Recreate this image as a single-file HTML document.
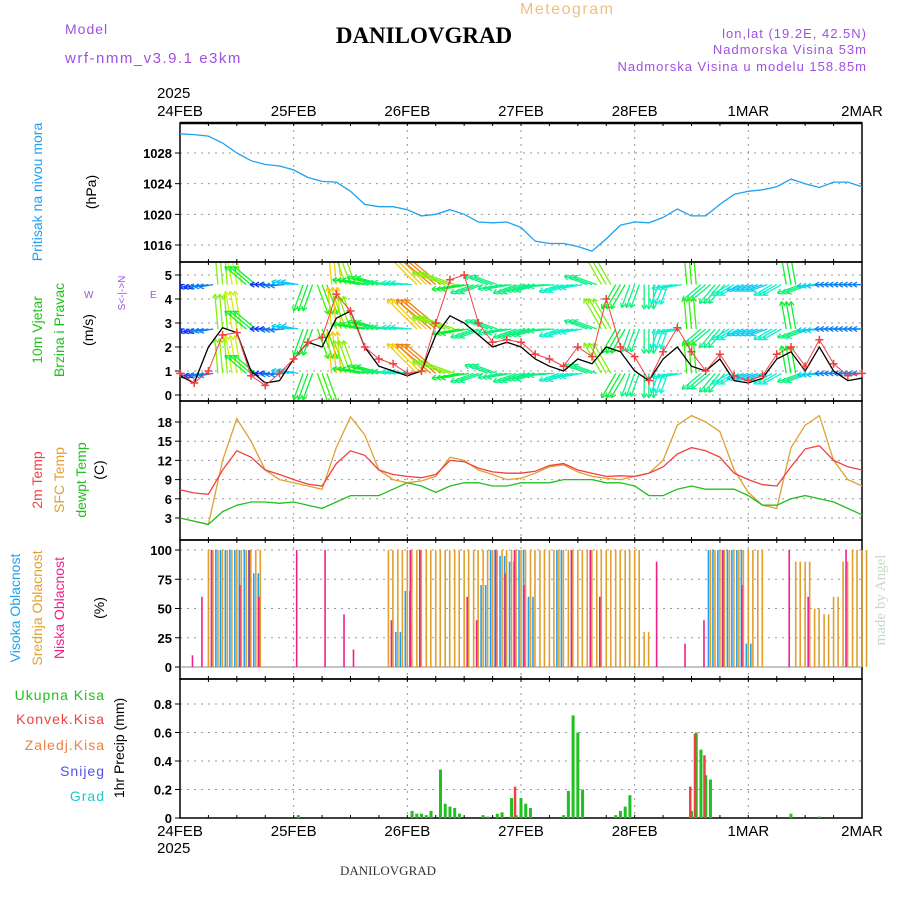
<!DOCTYPE html>
<html><head><meta charset="utf-8"><style>
body{margin:0;background:#fff}
svg{display:block;font-family:"Liberation Sans",sans-serif}
.tk{font-size:13px;font-weight:bold;text-anchor:end}
.dt{font-size:15px}
</style></head><body>
<svg id="c" width="900" height="900" viewBox="0 0 900 900">
<text x="520" y="14" fill="#f0c080" font-size="16" letter-spacing="1.5">Meteogram</text>
<text x="65" y="34" fill="#a050e0" font-size="14" letter-spacing="1">Model</text>
<text x="65" y="63" fill="#a050e0" font-size="15" letter-spacing="1.5">wrf-nmm_v3.9.1 e3km</text>
<text x="424" y="43" text-anchor="middle" font-family="Liberation Serif,serif" font-weight="bold" font-size="23" fill="#000">DANILOVGRAD</text>
<text x="867" y="38" text-anchor="end" fill="#a050e0" font-size="13" letter-spacing="1">lon,lat (19.2E, 42.5N)</text>
<text x="867" y="54" text-anchor="end" fill="#a050e0" font-size="13" letter-spacing="1">Nadmorska Visina 53m</text>
<text x="867" y="71" text-anchor="end" fill="#a050e0" font-size="13" letter-spacing="1">Nadmorska Visina u modelu 158.85m</text>
<text x="157" y="98" class="dt">2025</text>
<text x="157" y="853" class="dt">2025</text>
<text x="388" y="875" text-anchor="middle" font-family="Liberation Serif,serif" font-size="13" fill="#333">DANILOVGRAD</text>
<text transform="translate(885,600) rotate(-90)" text-anchor="middle" font-family="Liberation Serif,serif" font-size="15" fill="#c8d8c8">made by Angel</text>
<g id="lbl" font-size="14">
<text transform="translate(42,192) rotate(-90)" text-anchor="middle" fill="#20a0f0">Pritisak na nivou mora</text>
<text transform="translate(96,192) rotate(-90)" text-anchor="middle">(hPa)</text>
<text transform="translate(42,330) rotate(-90)" text-anchor="middle" fill="#20c020">10m Vjetar</text>
<text transform="translate(64,330) rotate(-90)" text-anchor="middle" fill="#20c020">Brzina i Pravac</text>
<text transform="translate(93,330) rotate(-90)" text-anchor="middle">(m/s)</text>
<text transform="translate(125,293) rotate(-90)" text-anchor="middle" fill="#a050e0" font-size="10">S&lt;-|-&gt;N</text>
<text x="84" y="298" fill="#a050e0" font-size="10">W</text>
<text x="150" y="298" fill="#a050e0" font-size="10">E</text>
<text transform="translate(42,480) rotate(-90)" text-anchor="middle" fill="#f04040">2m Temp</text>
<text transform="translate(64,480) rotate(-90)" text-anchor="middle" fill="#e0a030">SFC Temp</text>
<text transform="translate(86,480) rotate(-90)" text-anchor="middle" fill="#20c020">dewpt Temp</text>
<text transform="translate(104,470) rotate(-90)" text-anchor="middle">(C)</text>
<text transform="translate(20,608) rotate(-90)" text-anchor="middle" fill="#20a0f0">Visoka Oblacnost</text>
<text transform="translate(42,608) rotate(-90)" text-anchor="middle" fill="#e0a030">Srednja Oblacnost</text>
<text transform="translate(64,608) rotate(-90)" text-anchor="middle" fill="#f0208a">Niska Oblacnost</text>
<text transform="translate(104,608) rotate(-90)" text-anchor="middle">(%)</text>
<text x="105" y="700" text-anchor="end" fill="#20c020" letter-spacing="1">Ukupna Kisa</text>
<text x="105" y="724" text-anchor="end" fill="#f04040" letter-spacing="1">Konvek.Kisa</text>
<text x="105" y="750" text-anchor="end" fill="#f08040" letter-spacing="1">Zaledj.Kisa</text>
<text x="105" y="776" text-anchor="end" fill="#5050f0" letter-spacing="1">Snijeg</text>
<text x="105" y="801" text-anchor="end" fill="#20c8c8" letter-spacing="1">Grad</text>
<text transform="translate(124,748) rotate(-90)" text-anchor="middle">1hr Precip (mm)</text>
</g>
<g id="g"></g>
</svg>
<script>
const dayLabels=["24FEB","25FEB","26FEB","27FEB","28FEB","1MAR","2MAR"];
const pressTicks=[1016,1020,1024,1028];
const windTicks=[0,1,2,3,4,5];
const tempTicks=[3,6,9,12,15,18];
const cloudTicks=[0,25,50,75,100];
const precipTicks=[0,0.2,0.4,0.6,0.8];
// 3-hourly series (hour = i*3)
const pressure=[1030.5,1030.4,1030.2,1029.3,1028.0,1027.0,1026.5,1026.3,1025.8,1024.8,1024.3,1024.2,1023.0,1021.3,1021.0,1021.0,1020.6,1019.8,1020.0,1020.6,1020.0,1019.0,1018.9,1019.0,1018.3,1016.5,1016.2,1016.2,1015.8,1015.2,1016.8,1018.6,1019.0,1018.9,1019.6,1020.7,1019.8,1019.8,1021.3,1022.6,1023.0,1023.2,1023.6,1024.6,1024.0,1023.5,1024.2,1024.2,1023.6];
const temp2m=[7.4,6.9,6.7,10.5,13.5,12.5,10.5,9.8,9.0,8.3,8.0,11.5,13.5,12.8,10.5,9.8,9.5,9.3,9.8,12.0,11.8,10.8,10.2,10.0,10.0,10.3,11.2,11.5,10.5,10.0,9.5,9.6,9.5,10.0,11.0,13.0,14.0,13.5,12.5,10.0,9.0,8.2,8.0,11.0,13.8,14.3,12.0,11.0,10.5];
const tempSfc=[3.0,2.5,2.0,12.0,18.5,15.0,10.5,9.0,8.5,8.0,7.5,14.0,18.8,16.0,10.5,9.0,8.5,8.8,9.5,12.5,12.0,10.5,9.8,9.0,9.2,10.0,11.0,11.3,10.2,9.5,9.2,9.0,9.5,10.0,12.0,17.5,19.0,18.0,16.5,10.5,7.0,5.0,4.5,14.0,17.5,19.0,12.0,9.0,8.0];
const dewpt=[3.0,2.5,2.0,4.0,5.0,5.5,5.5,5.3,5.5,5.0,4.5,5.5,6.5,6.5,6.5,7.5,8.5,8.0,7.0,8.0,8.5,8.5,8.0,8.0,8.5,8.5,8.5,9.0,9.0,9.0,8.5,8.5,8.0,6.5,6.5,7.5,8.0,7.5,7.5,7.5,6.5,5.0,5.0,6.0,6.5,6.0,5.5,4.5,3.5];
const windSpd=[0.8,0.5,2.0,2.8,2.6,1.0,0.5,0.6,1.5,2.2,2.0,3.2,3.5,2.0,1.2,1.0,0.8,1.0,2.5,3.3,3.0,2.5,2.0,2.2,2.0,1.5,1.2,1.0,1.5,1.3,2.0,1.8,1.0,0.6,1.5,2.0,1.2,1.0,1.5,0.6,0.5,0.7,1.5,1.8,1.0,2.0,1.0,0.6,0.7];
const windGust=[0.9,0.5,1.0,2.5,2.6,0.8,0.4,0.9,1.5,2.2,2.4,4.2,3.5,2.0,1.5,1.3,0.9,1.0,3.0,4.8,5.0,3.0,2.2,2.3,2.2,1.7,1.5,1.2,2.0,1.6,4.0,2.0,1.6,0.6,1.8,2.8,1.8,1.0,1.7,0.8,0.6,0.8,1.7,2.0,1.2,2.3,1.3,0.8,0.9];
const arrowDir=[180,200,190,95,100,140,180,185,170,250,290,95,110,170,165,175,175,135,140,160,190,200,160,190,200,195,185,200,190,160,120,240,250,270,250,190,95,220,230,210,200,200,210,100,200,185,180,180,180];
const arrowSpd=[1.5,1.5,2,5,5.5,4,1.5,2,2.5,4,4.5,6,5,4,4,3.5,3,6,6.5,5,4,3.5,3.5,3.5,3.5,3.5,3.5,3,3,3.5,5,4,3.5,3.5,3,3,4.5,3.5,3.5,3,2.5,2.5,3,4,3.5,2.5,2,2,2];
// 2-hourly cloud cover (hour = j*2)
const cloudHigh=[0,0,0,0,100,100,100,100,80,0,0,0,0,0,0,0,0,0,0,0,0,0,0,30,65,0,0,0,0,0,0,0,70,100,95,90,100,60,0,0,100,0,0,0,0,0,0,0,0,0,0,0,0,0,0,0,100,100,100,100,20,0,0,0,0,0,0,0,0,0,0,0,0];
const cloudMid=[0,0,0,100,100,100,100,100,100,0,0,0,0,0,0,0,0,0,0,0,0,0,100,100,100,100,100,100,100,100,100,100,100,100,100,100,100,100,100,100,100,100,100,100,100,100,100,100,100,30,0,0,0,0,0,0,100,100,100,100,100,100,0,0,0,90,90,50,45,60,90,100,100];
const cloudLow=[0,10,60,100,0,0,70,100,60,0,0,0,100,0,0,100,0,45,15,0,0,0,40,0,100,100,0,0,0,0,60,40,0,100,80,100,70,0,0,0,0,100,0,100,60,0,0,0,0,0,90,0,0,20,0,40,0,100,0,70,0,0,0,0,100,0,60,0,0,0,100,0,0];
// hourly precip events
const precipHour=[25,49,50,51,52,53,55,56,57,58,59,64,65,67,68,70,71,72,73,74,81,82,83,84,85,92,93,94,95,108,109,110,111,112,129,135];
const precipTotal=[0.02,0.05,0.03,0.03,0.02,0.05,0.34,0.1,0.08,0.07,0.03,0.02,0.01,0.03,0.04,0.14,0.02,0.14,0.1,0.07,0.02,0.19,0.72,0.6,0.2,0.02,0.05,0.08,0.16,0.05,0.6,0.48,0.3,0.27,0.03,0.01];
const precipConv=[0,0,0,0,0,0,0,0,0,0,0,0,0,0,0,0,0.22,0,0,0,0,0,0,0,0,0,0,0,0,0.22,0.59,0,0.44,0,0,0];

const NS="http://www.w3.org/2000/svg",G=document.getElementById('g');
function el(t,a,p){const e=document.createElementNS(NS,t);for(const k in a)e.setAttribute(k,a[k]);(p||G).appendChild(e);return e;}
const X0=180,X1=862;
const xh=h=>X0+h*(X1-X0)/144;
const yP=v=>153+(1028-v)*7.667, yW=v=>395-v*24, yT=v=>518-(v-3)*6.4, yC=v=>667-v*1.17, yR=v=>818-v*142.5;
const panels=[[123,262,pressTicks,yP,'pressure'],[262,401,windTicks,yW,'wind'],[401,540,tempTicks,yT,'temperature'],[540,679,cloudTicks,yC,'cloud'],[679,818,precipTicks,yR,'precip']];
panels.forEach(p=>{
  const [t,b,ticks,f,n]=p;
  const g=el('g',{});
  
  
  ticks.forEach(v=>{const y=f(v);
    const gl=el('line',{x1:X0,x2:X1,y1:y,y2:y,stroke:'#999','stroke-dasharray':'2,5'},g);
    
    el('line',{x1:X0-5,x2:X0,y1:y,y2:y,stroke:'#000'},g);
    const tx=el('text',{x:X0-8,y:y+5,class:'tk'},g);tx.textContent=v;
    });
  for(let d=1;d<6;d++){const x=xh(d*24);const vl=el('line',{x1:x,x2:x,y1:t,y2:b,stroke:'#999','stroke-dasharray':'2,5'},g);
    }
  for(let h=0;h<=144;h+=6){const x=xh(h);el('line',{x1:x,x2:x,y1:b,y2:b-3,stroke:'#000'},g);el('line',{x1:x,x2:x,y1:t,y2:t+3,stroke:'#000'},g);}
  const r=el('rect',{x:X0,y:t,width:X1-X0,height:b-t,fill:'none',stroke:'#000','stroke-width':1.5},g);
  
});
el('line',{x1:X0,x2:X1,y1:123,y2:123,stroke:'#000','stroke-width':2.5});
dayLabels.forEach((d,i)=>{const x=xh(i*24);
  const a=el('text',{x:x,y:116,'text-anchor':'middle',class:'dt'});a.textContent=d;
  
  const b=el('text',{x:x,y:836,'text-anchor':'middle',class:'dt'});b.textContent=d;
  });
function line(arr,f,col,w,name){const pts=arr.map((v,i)=>xh(i*3).toFixed(1)+','+f(v).toFixed(1)).join(' ');
  const l=el('polyline',{points:pts,fill:'none',stroke:col,'stroke-width':w});
  }
line(pressure,yP,'#20a0f0',1.3,'pressure-line');
// wind arrows at three levels, each drawn as a small fan
const hue=s=>Math.max(10,Math.min(280,290-s*40));
const clip=el('clipPath',{id:'wclip'});el('rect',{x:X0,y:263,width:X1-X0,height:137},clip);
const WG=el('g',{'clip-path':'url(#wclip)'});
[4.6,2.75,0.9].forEach((lv,k)=>{
  arrowDir.forEach((d,i)=>{const c='hsl('+hue(arrowSpd[i])+',90%,50%)',a=d*Math.PI/180,L=arrowSpd[i]*7;
    const g=el('g',{stroke:c,'stroke-width':1.3,fill:'none'},WG);
    
    [-4.7,0,4.7].forEach(o=>{const x=xh(i*3)+o,y=yW(lv);
      const x2=x+L*Math.cos(a),y2=y-L*Math.sin(a);
      el('line',{x1:x,y1:y,x2:x2,y2:y2},g);
      [a+2.6,a-2.6].forEach(b=>el('line',{x1:x2,y1:y2,x2:x2+5*Math.cos(b),y2:y2-5*Math.sin(b)},g));
    });
  });
});
line(windSpd,yW,'#000',1.3,'wind-speed-line');
line(windGust,yW,'#f04040',1,'wind-gust-line');
windGust.forEach((v,i)=>{const x=xh(i*3),y=yW(v);
  const p=el('path',{d:`M${x-4},${y}h8M${x},${y-4}v8`,stroke:'#f04040','stroke-width':1.5});
  });
line(tempSfc,yT,'#e0a030',1.3,'sfc-temp-line');
line(temp2m,yT,'#f04040',1.3,'temp-2m-line');
line(dewpt,yT,'#20c020',1.3,'dewpt-line');
el('line',{x1:X0,x2:X1,y1:yC(0),y2:yC(0),stroke:'#888'});
[[cloudMid,'#e0a030',0],[cloudHigh,'#20a0f0',-2],[cloudLow,'#f0208a',3]].forEach(([arr,col,off])=>{
  arr.forEach((v,j)=>{if(!v)return;const x=xh(j*2)+off;
    const b=el('line',{x1:x,x2:x,y1:yC(0),y2:yC(v),stroke:col,'stroke-width':1.6});
    
    if(col!=='#f0208a'){const b2=el('line',{x1:x+4.5,x2:x+4.5,y1:yC(0),y2:yC(v),stroke:col,'stroke-width':1.6});
      }
  });});
precipHour.forEach((h,i)=>{const x=xh(h);
  if(precipTotal[i]){const r=el('rect',{x:x-1.5,y:yR(precipTotal[i]),width:3,height:818-yR(precipTotal[i]),fill:'#20c020'});
    }
  if(precipConv[i]){const r=el('rect',{x:x-2.5,y:yR(precipConv[i]),width:2.5,height:818-yR(precipConv[i]),fill:'#f04040'});
    }
});
</script>
</body></html>
